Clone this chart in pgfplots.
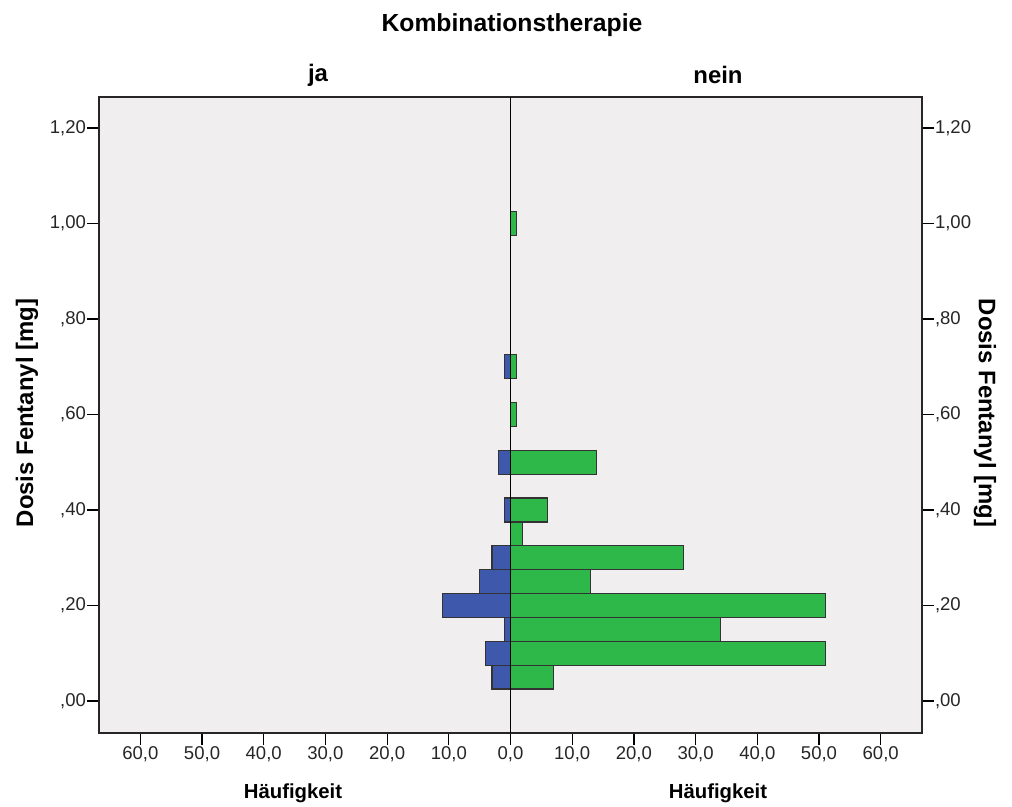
\documentclass[border=0pt]{standalone}
\usepackage{pgfplots}
\pgfplotsset{compat=1.18}
\usepackage{fontspec}
\setmainfont{Liberation Sans}
\definecolor{bgc}{RGB}{240,238,238}
\definecolor{jablue}{RGB}{62,88,172}
\definecolor{neingreen}{RGB}{46,184,74}
\begin{document}
\begin{tikzpicture}
\useasboundingbox (0,0) rectangle (506bp,403.5bp);
\begin{axis}[
  at={(49.5bp,37bp)}, anchor=south west,
  scale only axis, width=411.5bp, height=318bp,
  xmin=-66.7, xmax=66.7, ymin=-0.067, ymax=1.265,
  axis background/.style={fill=bgc},
  axis line style={line width=1bp, black!85},
  tick align=outside, major tick length=5.8bp,
  tick style={black, line width=0.6bp},
  xtick={-60,-50,-40,-30,-20,-10,0,10,20,30,40,50,60},
  xticklabels={{60,0},{50,0},{40,0},{30,0},{20,0},{10,0},{0,0},{10,0},{20,0},{30,0},{40,0},{50,0},{60,0}},
  ytick={0,0.2,0.4,0.6,0.8,1.0,1.2},
  yticklabels={{,00},{,20},{,40},{,60},{,80},{1,00},{1,20}},
  xtick pos=bottom, ytick pos=left,
  ticklabel style={font=\fontsize{9.3}{10}\selectfont, text=black!85},
  xticklabel style={yshift=2.5bp},
  yticklabel style={inner sep=0.5bp},
  xbar, bar width=0.05, bar shift=0pt,
]
\addplot[fill=neingreen, draw=black!80, line width=0.6bp] coordinates {
(7,0.05) (51,0.10) (34,0.15) (51,0.20) (13,0.25) (28,0.30) (2,0.35) (6,0.40) (14,0.50) (1,0.60) (1,0.70) (1,1.00)};
\addplot[fill=jablue, draw=black!80, line width=0.6bp] coordinates {
(-3,0.05) (-4,0.10) (-1,0.15) (-11,0.20) (-5,0.25) (-3,0.30) (-1,0.40) (-2,0.50) (-1,0.70)};
\draw[black, line width=0.6bp] (axis cs:0,-0.067) -- (axis cs:0,1.265);
\end{axis}
\begin{axis}[
  at={(49.5bp,37bp)}, anchor=south west,
  scale only axis, width=411.5bp, height=318bp,
  xmin=-66.7, xmax=66.7, ymin=-0.067, ymax=1.265,
  axis x line=none, axis y line*=right,
  axis line style={line width=1bp, black!85, -},
  tick align=outside, major tick length=5.8bp,
  tick style={black, line width=0.6bp},
  ytick={0,0.2,0.4,0.6,0.8,1.0,1.2},
  yticklabels={{,00},{,20},{,40},{,60},{,80},{1,00},{1,20}},
  ticklabel style={font=\fontsize{9.3}{10}\selectfont, text=black!85},
  yticklabel style={inner sep=0.5bp},
]
\end{axis}
\node[font=\bfseries\fontsize{12.4}{14}\selectfont] at (256bp,391bp) {Kombinationstherapie};
\node[font=\bfseries\fontsize{12}{14}\selectfont] at (159bp,366bp) {ja};
\node[font=\bfseries\fontsize{12}{14}\selectfont] at (359bp,366bp) {nein};
\node[font=\bfseries\fontsize{10.2}{12}\selectfont] at (146.5bp,7bp) {Häufigkeit};
\node[font=\bfseries\fontsize{10.2}{12}\selectfont] at (359bp,7bp) {Häufigkeit};
\node[font=\bfseries\fontsize{12}{14}\selectfont, rotate=90] at (13.5bp,197bp) {Dosis Fentanyl [mg]};
\node[font=\bfseries\fontsize{12}{14}\selectfont, rotate=-90] at (492.5bp,197bp) {Dosis Fentanyl [mg]};
\end{tikzpicture}
\end{document}
